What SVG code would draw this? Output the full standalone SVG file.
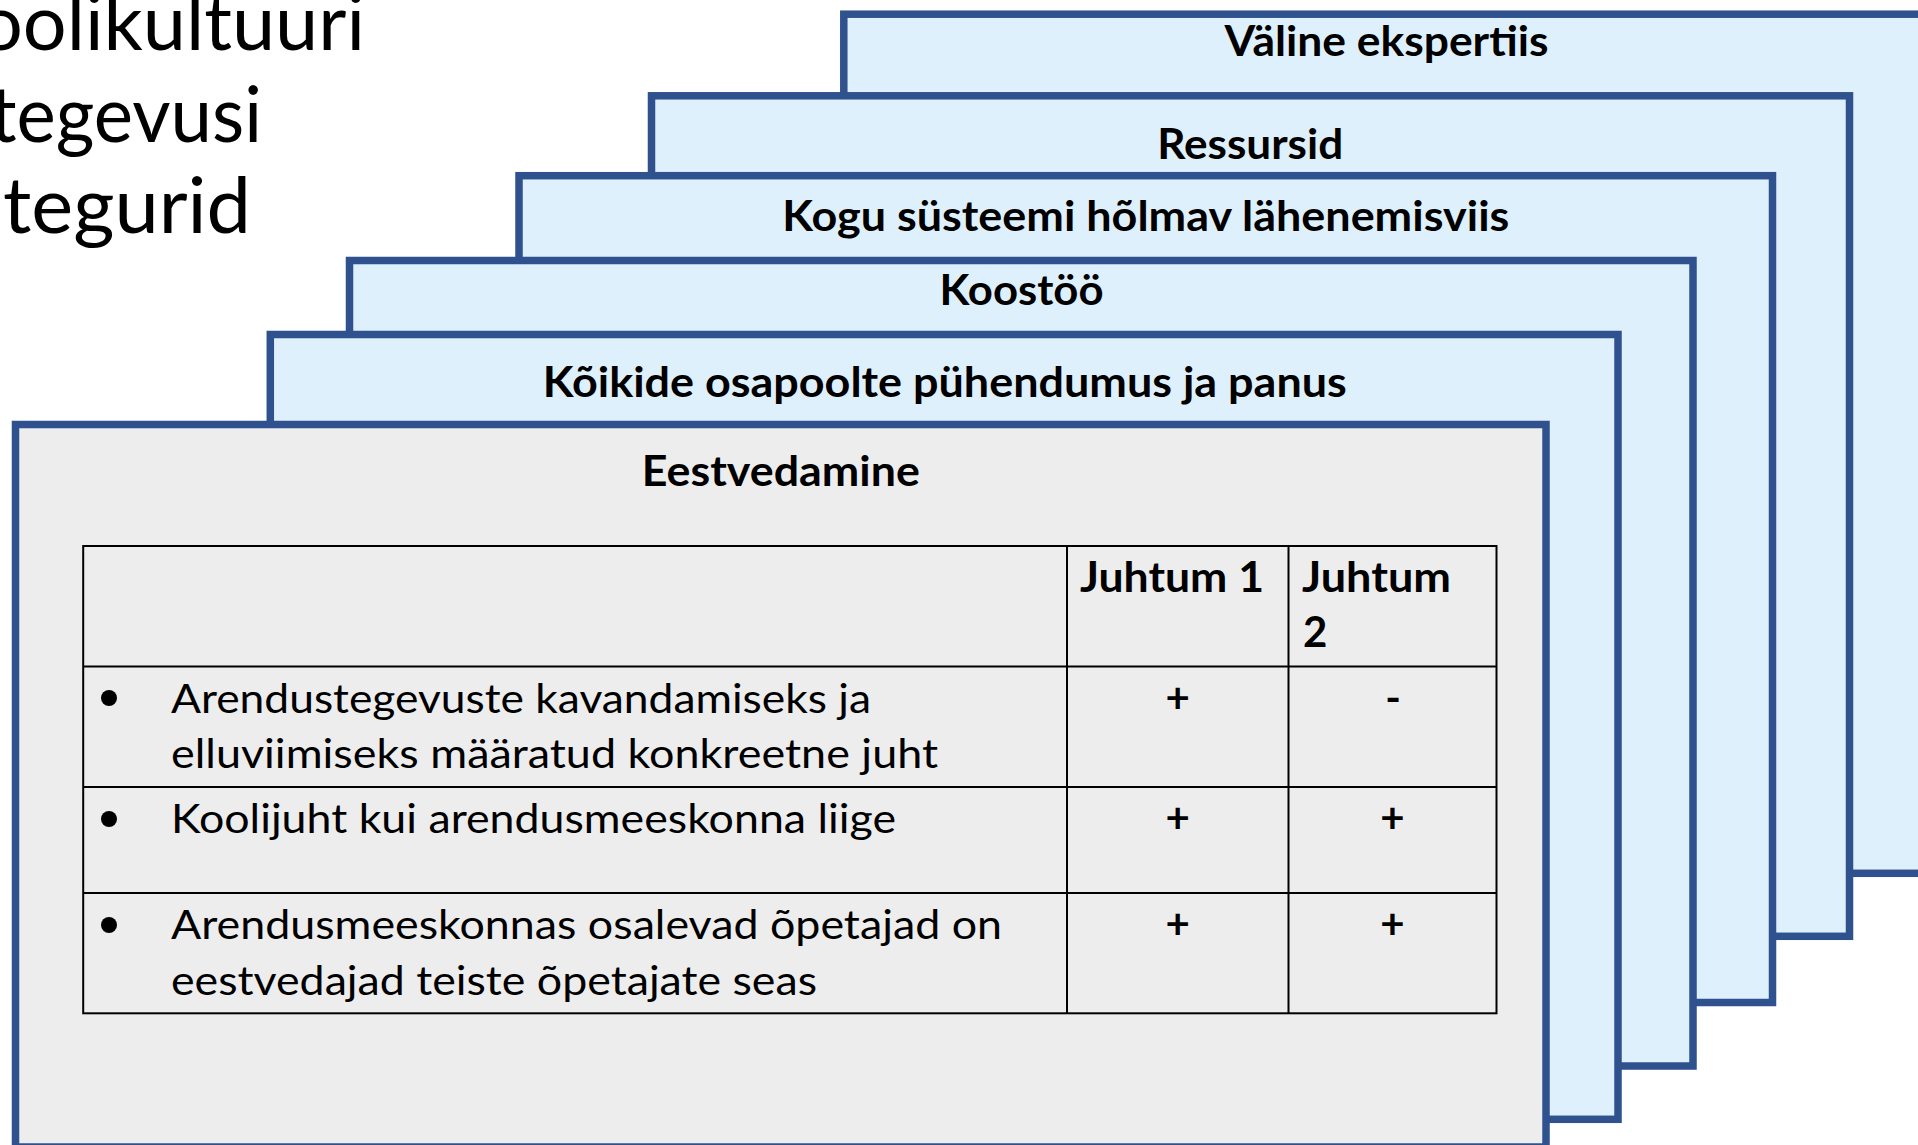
<svg xmlns="http://www.w3.org/2000/svg" width="1918" height="1145" viewBox="0 0 1918 1145">
<style>
.box{fill:#DFF0FD;stroke:#2F528F;stroke-width:7.5}
.front{fill:#EDEDED;stroke:#2F528F;stroke-width:7.5}
.lbl{font-family:Lato,"Open Sans","Liberation Sans",sans-serif;font-weight:bold;font-size:42px;fill:#000;text-anchor:middle}
.title{font-family:Lato,"Open Sans","Liberation Sans",sans-serif;font-size:78px;fill:#000}
.cell{font-family:Lato,"Open Sans","Liberation Sans",sans-serif;font-size:41px;fill:#000}
.hd{font-family:Lato,"Open Sans","Liberation Sans",sans-serif;font-weight:bold;font-size:42px;fill:#000}
.mk{font-family:Lato,"Open Sans","Liberation Sans",sans-serif;font-weight:bold;font-size:42px;fill:#000;text-anchor:middle}
.grid{stroke:#000;stroke-width:2;fill:none}
.bul{fill:#000}
</style>
<rect x="0" y="0" width="1918" height="1145" fill="#FFFFFF"/>
<g id="title">
<text class="title" x="365" y="50" text-anchor="end" textLength="386" lengthAdjust="spacingAndGlyphs">oolikultuuri</text>
<text class="title" x="262" y="142" text-anchor="end" textLength="272" lengthAdjust="spacingAndGlyphs">tegevusi</text>
<text class="title" x="3" y="233" textLength="248" lengthAdjust="spacingAndGlyphs">tegurid</text>
</g>
<g id="connectors"></g>
<g id="box-valine">
<rect class="box" x="843.8" y="14.2" width="1090" height="859.1"/>
<text class="lbl" x="1386.5" y="56" textLength="324" lengthAdjust="spacingAndGlyphs">Väline ekspertiis</text>
</g>
<g id="box-ressursid">
<rect class="box" x="651.5" y="95.8" width="1198" height="840.5"/>
<text class="lbl" x="1250.2" y="158.5" textLength="186" lengthAdjust="spacingAndGlyphs">Ressursid</text>
</g>
<g id="box-kogu">
<rect class="box" x="519" y="175.7" width="1253.5" height="826.8"/>
<text class="lbl" x="1145.8" y="231" textLength="727" lengthAdjust="spacingAndGlyphs">Kogu süsteemi hõlmav lähenemisviis</text>
</g>
<g id="box-koostoo">
<rect class="box" x="349.5" y="260.5" width="1343.5" height="805.5"/>
<text class="lbl" x="1021.5" y="305" textLength="164" lengthAdjust="spacingAndGlyphs">Koostöö</text>
</g>
<g id="box-koikide">
<rect class="box" x="270.3" y="334.5" width="1347.7" height="784.8"/>
<text class="lbl" x="944.8" y="397" textLength="804" lengthAdjust="spacingAndGlyphs">Kõikide osapoolte pühendumus ja panus</text>
</g>
<g id="box-eestvedamine">
<rect class="front" x="15.5" y="424.5" width="1530.5" height="722.5"/>
<text class="lbl" x="780.8" y="486" textLength="278" lengthAdjust="spacingAndGlyphs">Eestvedamine</text>
<g id="table">
<rect class="grid" x="83.2" y="546" width="1413.3" height="467.3"/>
<line class="grid" x1="83.2" y1="666.5" x2="1496.5" y2="666.5"/>
<line class="grid" x1="83.2" y1="787" x2="1496.5" y2="787"/>
<line class="grid" x1="83.2" y1="893" x2="1496.5" y2="893"/>
<line class="grid" x1="1067" y1="546" x2="1067" y2="1013.3"/>
<line class="grid" x1="1288.5" y1="546" x2="1288.5" y2="1013.3"/>
<text class="hd" x="1080" y="591.7" textLength="184" lengthAdjust="spacingAndGlyphs">Juhtum 1</text>
<text class="hd" x="1302" y="591.7" textLength="149" lengthAdjust="spacingAndGlyphs">Juhtum</text>
<text class="hd" x="1303" y="647.3">2</text>
<circle class="bul" cx="109" cy="698" r="8"/>
<circle class="bul" cx="109" cy="819" r="8"/>
<circle class="bul" cx="109" cy="925" r="8"/>
<text class="cell" x="171" y="712.7" textLength="700" lengthAdjust="spacingAndGlyphs">Arendustegevuste kavandamiseks ja</text>
<text class="cell" x="171" y="768.3" textLength="767" lengthAdjust="spacingAndGlyphs">elluviimiseks määratud konkreetne juht</text>
<text class="cell" x="171" y="833.2" textLength="725" lengthAdjust="spacingAndGlyphs">Koolijuht kui arendusmeeskonna liige</text>
<text class="cell" x="171" y="939.2" textLength="831" lengthAdjust="spacingAndGlyphs">Arendusmeeskonnas osalevad õpetajad on</text>
<text class="cell" x="171" y="995" textLength="646" lengthAdjust="spacingAndGlyphs">eestvedajad teiste õpetajate seas</text>
<text class="mk" x="1177.7" y="712.7">+</text>
<text class="mk" x="1393" y="712.7">-</text>
<text class="mk" x="1177.7" y="833.2">+</text>
<text class="mk" x="1392.5" y="833.2">+</text>
<text class="mk" x="1177.7" y="939.2">+</text>
<text class="mk" x="1392.5" y="939.2">+</text>
</g>
</g>
</svg>
